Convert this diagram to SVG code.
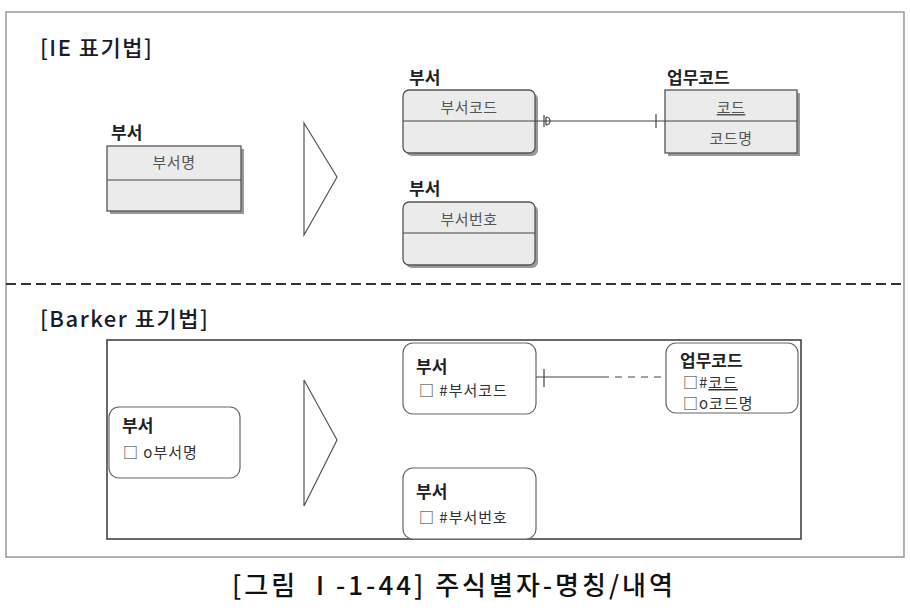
<svg xmlns="http://www.w3.org/2000/svg" width="910" height="610" viewBox="0 0 910 610">
<style>
text{font-family:"Noto Sans CJK KR","Noto Sans",sans-serif;fill:#222}
.h{font-size:22px;letter-spacing:1.5px;fill:#1a1a2a;font-weight:500}
.lab{font-size:17px;font-weight:bold}
.att{font-size:15px;fill:#555;letter-spacing:0.5px}
.batt{font-size:15px;fill:#333;letter-spacing:1px}
.box{fill:#ebebeb;stroke:#555;stroke-width:1.3}
.sh{fill:#999}
.bk{fill:#fff;stroke:#666;stroke-width:1.2}
.ln{stroke:#444;stroke-width:1.2;fill:none}
.tri{fill:#fff;stroke:#555;stroke-width:1.2}
</style>
<rect x="6" y="12" width="898" height="545" fill="#fff" stroke="#999" stroke-width="1.5"/>
<line x1="6" y1="284" x2="904" y2="284" stroke="#333" stroke-width="2" stroke-dasharray="10,5"/>
<text class="h" x="40" y="56">[IE 표기법]</text>
<text class="h" x="40" y="327">[Barker 표기법]</text>

<g id="ie-dept-left">
<text class="lab" x="111" y="139">부서</text>
<rect class="sh" x="110" y="149" width="134" height="65"/>
<rect class="box" x="107" y="146" width="134" height="65"/>
<line class="ln" x1="107" y1="180" x2="241" y2="180"/>
<text class="att" x="174" y="168" text-anchor="middle">부서명</text>
</g>
<polygon id="ie-arrow" class="tri" points="304,123 337,177 304,235"/>

<g id="ie-dept-code">
<text class="lab" x="409" y="84">부서</text>
<rect class="sh" x="406" y="93" width="132" height="63" rx="6"/>
<rect class="box" x="403" y="90" width="132" height="63" rx="6"/>
<line class="ln" x1="403" y1="121" x2="535" y2="121"/>
<text class="att" x="469" y="113" text-anchor="middle">부서코드</text>
</g>
<g id="ie-workcode">
<text class="lab" x="667" y="84">업무코드</text>
<rect class="sh" x="668" y="93" width="132" height="63"/>
<rect class="box" x="665" y="90" width="132" height="63"/>
<line class="ln" x1="665" y1="121" x2="797" y2="121"/>
<text class="att" x="731" y="113" text-anchor="middle" text-decoration="underline">코드</text>
<text class="att" x="731" y="144" text-anchor="middle">코드명</text>
</g>
<g id="ie-dept-no">
<text class="lab" x="409" y="195">부서</text>
<rect class="sh" x="406" y="205" width="132" height="63" rx="6"/>
<rect class="box" x="403" y="202" width="132" height="63" rx="6"/>
<line class="ln" x1="403" y1="233" x2="535" y2="233"/>
<text class="att" x="469" y="225" text-anchor="middle">부서번호</text>
</g>

<rect x="107" y="340" width="694" height="199" fill="none" stroke="#444" stroke-width="1.6"/>
<g id="bk-dept-left">
<rect class="bk" x="109" y="407" width="131" height="71" rx="10"/>
<text class="lab" x="122" y="432">부서</text>
<text class="batt" x="123" y="458">□ o부서명</text>
</g>
<polygon id="bk-arrow" class="tri" points="304,380 337,440 304,506"/>
<g id="bk-dept-code">
<rect class="bk" x="403" y="343" width="133" height="71" rx="10"/>
<text class="lab" x="416" y="373">부서</text>
<text class="batt" x="419" y="396">□ #부서코드</text>
</g>
<g id="bk-workcode">
<rect class="bk" x="666" y="343" width="132" height="70" rx="10"/>
<text class="lab" x="680" y="367">업무코드</text>
<text class="batt" x="683" y="388">□#<tspan text-decoration="underline">코드</tspan></text>
<text class="batt" x="683" y="409">□o코드명</text>
</g>
<g id="bk-dept-no">
<rect class="bk" x="403" y="468" width="133" height="71" rx="10"/>
<text class="lab" x="416" y="498">부서</text>
<text class="batt" x="419" y="523">□ #부서번호</text>
</g>

<g id="connectors">
<line class="ln" x1="535" y1="121" x2="665" y2="121"/>
<line class="ln" x1="544" y1="115" x2="544" y2="127"/>
<path class="ln" d="M546,117 A4,4 0 0 1 546,125"/>
<line class="ln" x1="546" y1="117" x2="546" y2="125"/>
<line class="ln" x1="656" y1="114" x2="656" y2="128"/>
<line class="ln" x1="536" y1="377" x2="602" y2="377"/>
<line class="ln" x1="602" y1="377" x2="666" y2="377" stroke-dasharray="7,6"/>
<line class="ln" x1="544" y1="369" x2="544" y2="387"/>
</g>

<text x="454" y="595" text-anchor="middle" style="font-size:26px;font-weight:500;fill:#111;letter-spacing:3px">[그림 Ⅰ-1-44] 주식별자-명칭/내역</text>
</svg>
